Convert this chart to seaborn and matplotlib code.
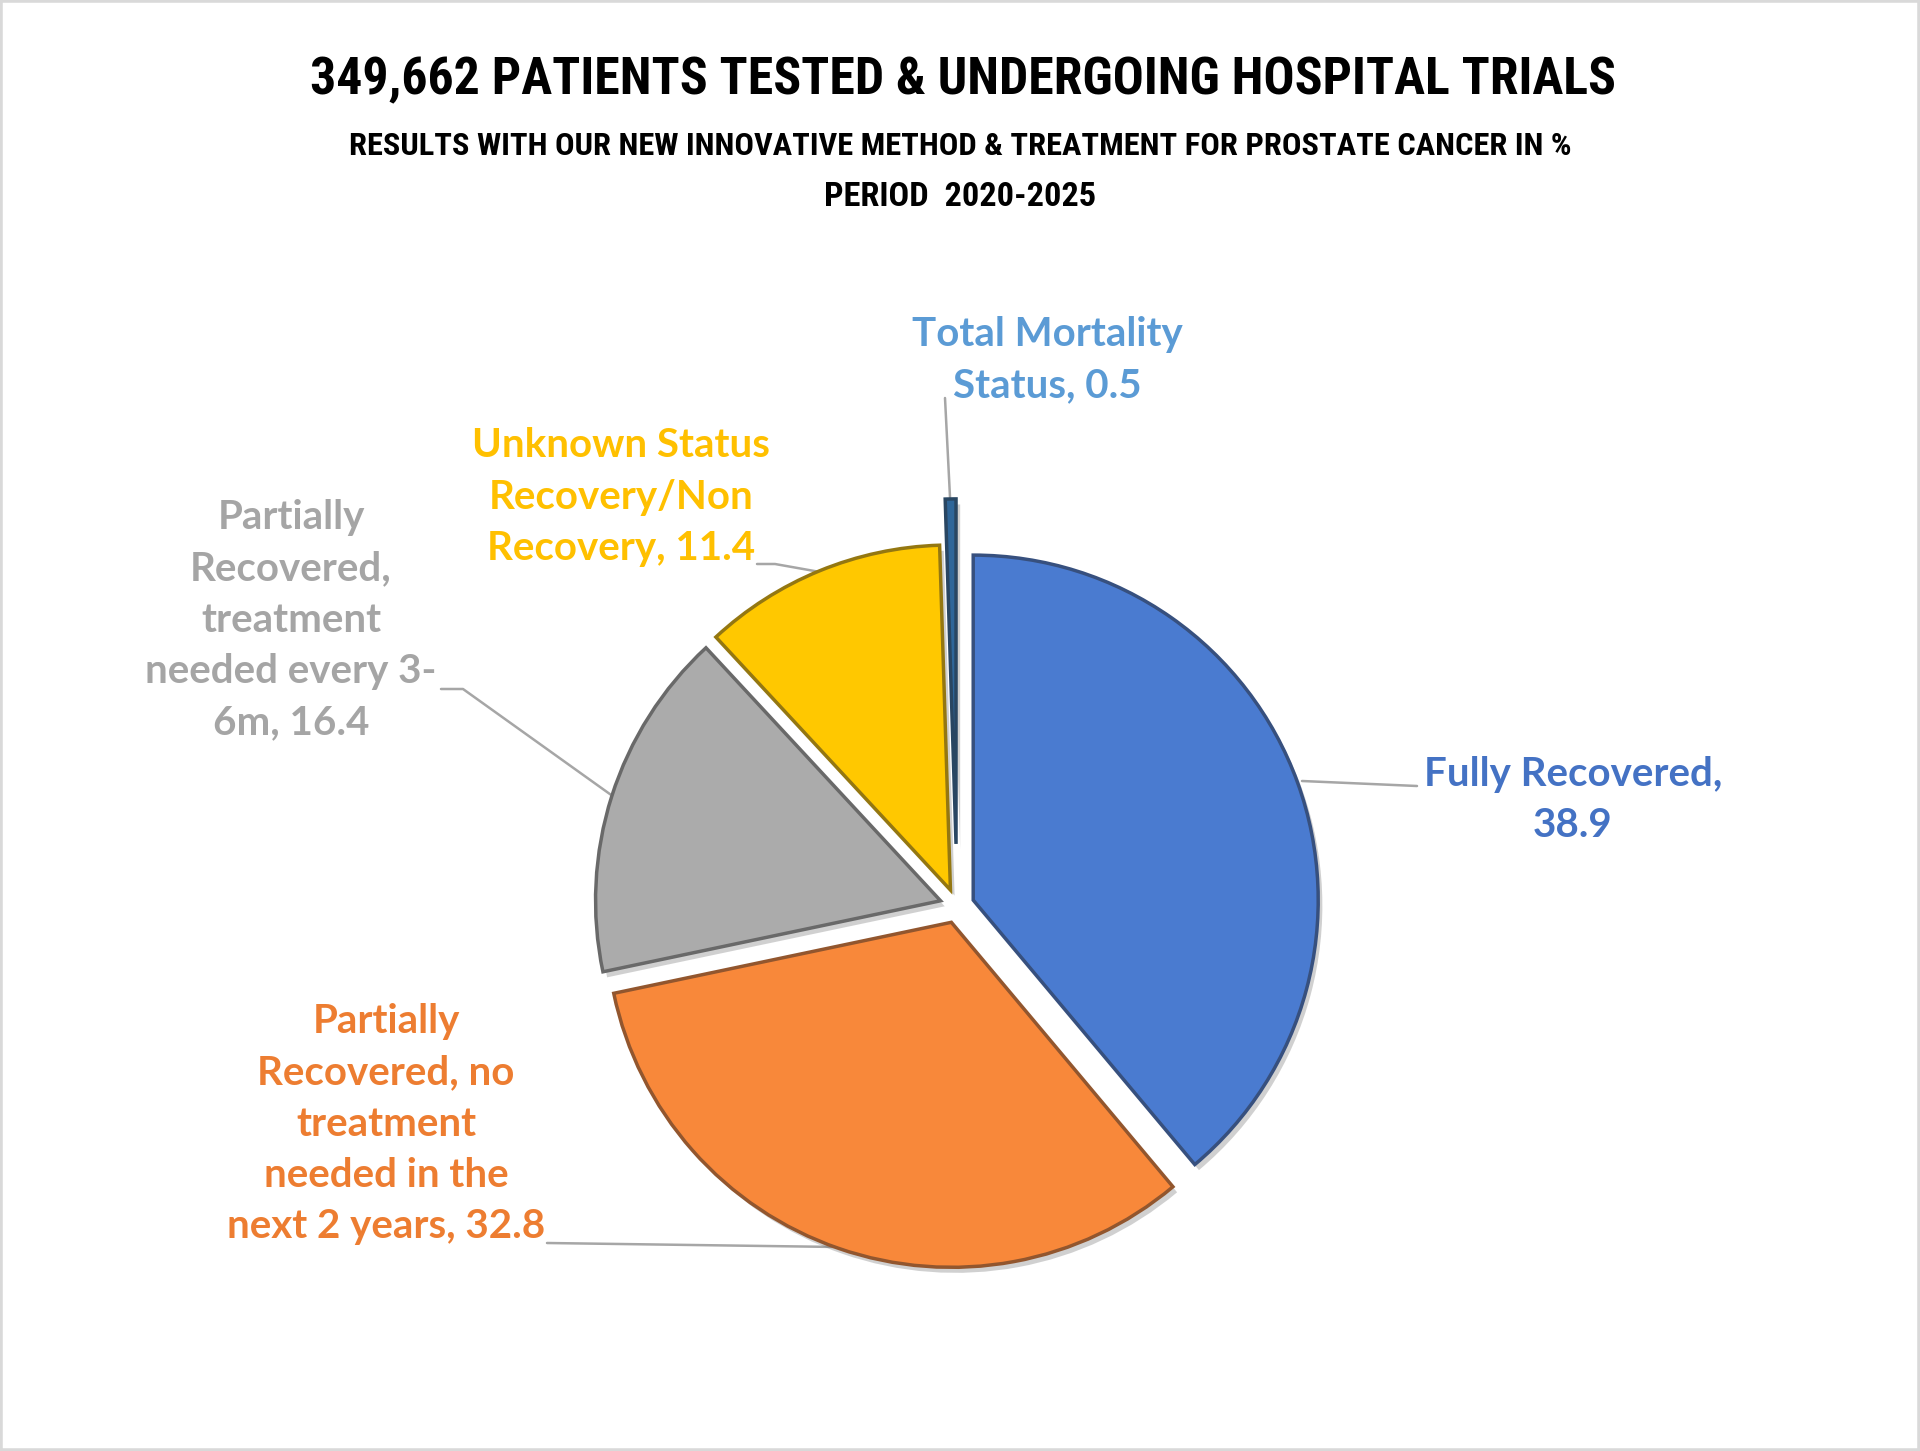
import matplotlib
matplotlib.use("Agg")
import matplotlib.pyplot as plt
import matplotlib.patheffects as pe
from matplotlib.patches import Rectangle
from matplotlib import font_manager
import seaborn as sns

# ------------------- Data -------------------
categories = ["Fully Recovered",
              "Partially\nRecovered, no\ntreatment\nneeded in the\nnext 2 years",
              "Partially\nRecovered,\ntreatment\nneeded every 3-\n6m",
              "Unknown Status\nRecovery/Non\nRecovery",
              "Total Mortality\nStatus"]
separators = [",\n", ", ", ", ", ", ", ", "]
values = [38.9, 32.8, 16.4, 11.4, 0.5]
slice_colors = ["#4A7BD0", "#F8883A", "#ABABAB", "#FFC800", "#2F6699"]
label_colors = ["#4472C4", "#ED7D31", "#A5A5A5", "#FFC000", "#5B9BD5"]

title = "349,662 PATIENTS TESTED & UNDERGOING HOSPITAL TRIALS"
subtitle = "RESULTS WITH OUR NEW INNOVATIVE METHOD & TREATMENT FOR PROSTATE CANCER IN %"
period = "PERIOD  2020-2025"

sns.set_theme(style="white")
installed = {f.name for f in font_manager.fontManager.ttflist}
narrow = next((f for f in ["Liberation Sans Narrow", "Roboto Condensed", "DejaVu Sans"]
               if f in installed), "DejaVu Sans")
label_font = "Lato" if "Lato" in installed else "Open Sans"
plt.rcParams["font.family"] = [label_font, "DejaVu Sans"]

W, H = 1920, 1451
fig = plt.figure(figsize=(W / 100, H / 100), dpi=100)
ax = fig.add_axes([0, 0, 1, 1])

# pie in pixel coordinates (y grows downward)
R = 345
center = (957, 906)
explode_frac = [0.05, 0.05, 0.05, 0.05, 0.18]
wedges, _ = ax.pie(values, colors=sns.color_palette(slice_colors),
                   startangle=-90, counterclock=True,
                   explode=[e * R for e in explode_frac],
                   radius=R, center=center,
                   wedgeprops=dict(linewidth=0))
for w, c in zip(wedges, slice_colors):
    dark = sns.dark_palette(c, n_colors=5)[2]
    w.set_edgecolor(dark)
    w.set_linewidth(2.5)
    w.set_path_effects([pe.SimplePatchShadow(offset=(3, -4), alpha=0.3, shadow_rgbFace="#666666"),
                        pe.Normal()])

ax.set_xlim(0, W)
ax.set_ylim(H, 0)
ax.set_aspect("equal")
ax.axis("off")

# ------------------- Labels -------------------
label_pos = [(1573, 800), (386, 1124), (291, 620), (621, 497), (1047, 360)]
leaders = [
    [(1302, 781), (1417, 786)],
    [(547, 1243), (838, 1247)],
    [(441, 689), (463, 689), (614, 797)],
    [(757, 564), (775, 564), (820, 572)],
    [(945, 398), (950, 497)],
]
renderer = fig.canvas.get_renderer()
for name, sep, v, col, pos in zip(categories, separators, values, label_colors, label_pos):
    ax.text(pos[0], pos[1], f"{name}{sep}{v}", color=col, fontsize=29,
            fontweight="bold", ha="center", va="center", linespacing=1.48)
for pts in leaders:
    xs, ys = zip(*pts)
    ax.plot(xs, ys, color="#A6A6A6", lw=1.8, zorder=0)

# ------------------- Titles -------------------
def fit_width(t, target):
    w = t.get_window_extent(renderer=renderer).width
    t.set_fontsize(t.get_fontsize() * target / w)

tkw = dict(ha="center", va="center", fontweight="bold", color="black",
           family=[narrow, "DejaVu Sans"], fontstretch="condensed")
t1 = ax.text(W / 2 + 3, 80, title, fontsize=40, **tkw)
t2 = ax.text(W / 2, 146, subtitle, fontsize=24, **tkw)
t3 = ax.text(W / 2, 197, period, fontsize=24, **tkw)
fit_width(t1, 1305)
fit_width(t2, 1220)
fit_width(t3, 273)

fig.patches.append(Rectangle((0, 0), 1, 1, transform=fig.transFigure, fill=False,
                             edgecolor="#D9D9D9", linewidth=4))

fig.savefig("out.png", dpi=100, facecolor="white")
